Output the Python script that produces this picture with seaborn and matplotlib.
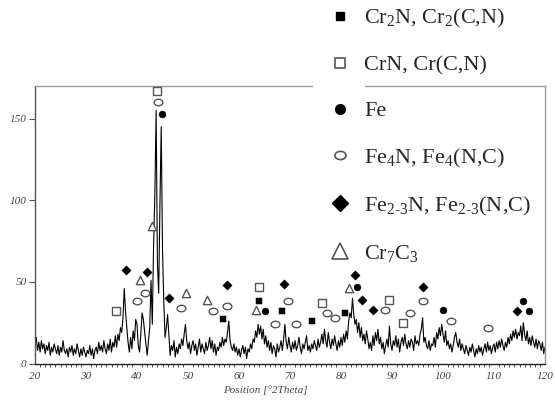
import numpy as np
import pandas as pd
import matplotlib
matplotlib.use("Agg")
import matplotlib.pyplot as plt
import seaborn as sns
from matplotlib.lines import Line2D
from matplotlib.path import Path
from matplotlib.transforms import Affine2D
from matplotlib.patches import Rectangle
from matplotlib.ticker import MultipleLocator

# ---------------- data ----------------
theta_start = 20.0
theta_step = 0.25
intensity = [
    12, 16, 8, 13,   7, 14, 9, 12,   6, 11, 8, 13,   5, 10, 7, 12,    # 20-23
    9, 6, 11, 5,     10, 7, 14, 8,   6, 9, 4, 10,    7, 11, 5, 9,     # 24-27
    6, 12, 8, 4,     9, 5, 10, 7,    4, 8, 6, 11,    5, 9, 3, 8,      # 28-31
    10, 6, 13, 8,    11, 7, 14, 9,   6, 12, 8, 15,   7, 13, 10, 17,   # 32-35
    10, 18, 14, 22,  19, 28, 46, 32, 22, 13, 7, 16,  9, 20, 14, 27,   # 36-39
    24, 11, 7, 18,   31, 27, 19, 12, 5, 14, 22, 51,  24, 72, 103, 155,# 40-43
    62, 43, 98, 145, 70, 38, 16, 22, 30, 18, 5, 11,  8, 14, 4, 10,    # 44-47
    6, 12, 9, 15,    11, 18, 24, 14, 9, 13, 6, 11,   14, 8, 12, 5,    # 48-51
    10, 15, 7, 12,   9, 6, 13, 8,    11, 16, 9, 14,  7, 12, 5, 10,    # 52-55
    8, 13, 10, 16,   11, 15, 13, 19, 26, 14, 10, 8,  12, 7, 10, 5,    # 56-59
    9, 4, 8, 11,     6, 10, 3, 9,    7, 12, 9, 15,   13, 20, 16, 24,  # 60-63
    18, 23, 15, 21,  12, 17, 10, 14, 8, 13, 6, 11,   9, 4, 12, 7,     # 64-67
    10, 14, 8, 15,   24, 13, 9, 16,  11, 7, 13, 9,   14, 8, 11, 16,   # 68-71
    10, 6, 12, 9,    13, 17, 8, 11,  7, 12, 9, 14,   11, 8, 15, 10,   # 72-75
    13, 18, 12, 21,  14, 10, 19, 13, 9, 15, 11, 17,  12, 8, 14, 10,   # 76-79
    16, 11, 18, 13,  20, 15, 26, 31, 28, 40, 30, 24, 27, 19, 25, 16,  # 80-83
    22, 14, 18, 12,  20, 15, 9, 13,  8, 17, 11, 19,  14, 21, 12, 16,  # 84-87
    9, 13, 6, 11,    15, 10, 23, 12, 8, 14, 11, 17,  10, 15, 7, 13,   # 88-91
    16, 11, 18, 12,  9, 14, 10, 15,  13, 8, 17, 12,  14, 11, 18, 21,  # 92-95
    28, 13, 16, 11,  9, 14, 8, 12,   11, 16, 10, 19, 15, 22, 17, 24,  # 96-99
    18, 13, 20, 11,  14, 9, 12, 7,   11, 16, 19, 13, 10, 15, 8, 12,   # 100-103
    9, 6, 11, 8,     5, 10, 7, 12,   8, 4, 9, 6,     11, 7, 10, 5,    # 104-107
    9, 12, 7, 13,    8, 11, 6, 10,   12, 7, 13, 9,   14, 10, 15, 11,  # 108-111
    8, 13, 10, 16,   12, 18, 14, 20, 16, 21, 15, 19, 17, 23, 14, 25,  # 112-115
    18, 14, 20, 12,  16, 11, 17, 13, 10, 15, 9, 14,  12, 8, 13, 6,    # 116-119
    10,                                                               # 120
]

phase_labels = [
    "Cr$_2$N, Cr$_2$(C,N)",
    "CrN, Cr(C,N)",
    "Fe",
    "Fe$_4$N, Fe$_4$(N,C)",
    "Fe$_{2\\text{-}3}$N, Fe$_{2\\text{-}3}$(N,C)",
    "Cr$_7$C$_3$",
]

cr2n_x = [56.9, 63.9, 68.4, 74.4, 80.8]
cr2n_y = [27, 38, 32, 26, 31]
crn_x = [35.9, 43.9, 63.9, 76.3, 89.5, 92.1]
crn_y = [32, 167, 47, 37, 39, 25]
fe_x = [44.9, 65.1, 83.1, 100.0, 115.7, 116.9]
fe_y = [152.6, 32, 47, 33, 38, 32]
fe4n_x = [40.0, 41.6, 44.1, 48.6, 54.9, 57.6, 67.1, 69.6, 71.2, 77.3, 78.9,
          88.6, 93.5, 96.1, 101.6, 108.8]
fe4n_y = [38, 43, 160, 34, 32, 35, 24, 38, 24, 31, 28, 33, 31, 38, 26, 22]
fe23n_x = [37.8, 42.0, 46.3, 57.6, 68.8, 82.7, 84.2, 86.2, 96.1, 114.5]
fe23n_y = [57, 56, 40, 48, 49, 54, 39, 33, 47, 32]
cr7c3_x = [40.6, 42.9, 49.6, 53.7, 63.3, 81.5]
cr7c3_y = [51, 84, 43, 39, 33, 46]

x_ticks = [20, 30, 40, 50, 60, 70, 80, 90, 100, 110, 120]
y_ticks = [0, 50, 100, 150]

# ---------------- style ----------------
sns.set_style("white")
plt.rcParams["font.family"] = ["Liberation Serif", "DejaVu Serif"]
plt.rcParams["mathtext.fontset"] = "custom"
plt.rcParams["mathtext.rm"] = "Liberation Serif"
plt.rcParams["mathtext.it"] = "Liberation Serif:italic"

W, H = 555, 400
fig = plt.figure(figsize=(W / 100, H / 100), dpi=100)
ax = fig.add_axes([35 / W, 1 - 363.5 / H, 510 / W, (363.5 - 86) / H])

theta = theta_start + theta_step * np.arange(len(intensity))
df = pd.DataFrame({"theta": theta, "I": intensity})
sns.lineplot(data=df, x="theta", y="I", ax=ax, color="black", lw=0.8)

ellipse = Path.unit_circle().transformed(Affine2D().scale(1.35, 1.0))

gray = "#555555"
styles = [
    (cr2n_x, cr2n_y, dict(marker="s", s=20, color="black", edgecolor="black")),
    (crn_x, crn_y, dict(marker="s", s=26, color="white", edgecolor=gray, linewidth=1.0)),
    (fe_x, fe_y, dict(marker="o", s=24, color="black", edgecolor="black")),
    (fe4n_x, fe4n_y, dict(marker=ellipse, s=40, color="white", edgecolor=gray, linewidth=1.0)),
    (fe23n_x, fe23n_y, dict(marker="D", s=22, color="black", edgecolor="black")),
    (cr7c3_x, cr7c3_y, dict(marker="^", s=36, color="white", edgecolor=gray, linewidth=1.0)),
]
for xs, ys, kw in styles:
    sns.scatterplot(x=xs, y=ys, ax=ax, legend=False, clip_on=False, zorder=4, **kw)

ax.set_xlim(20, 120)
ax.set_ylim(0, 170)
ax.set_xticks(x_ticks)
ax.set_yticks(y_ticks)
ax.xaxis.set_minor_locator(MultipleLocator(1))
ax.tick_params(axis="x", which="major", direction="out", length=4, width=0.8,
               color="#333333", labelsize=8, labelcolor="#444444", pad=2)
ax.tick_params(axis="x", which="minor", direction="out", length=2.5, width=0.6,
               color="#333333", bottom=True)
ax.tick_params(axis="y", which="major", direction="out", length=4, width=0.8,
               color="#555555", labelsize=8, labelcolor="#444444", pad=2, left=True)
for lab in ax.get_xticklabels() + ax.get_yticklabels():
    lab.set_fontstyle("italic")

ax.set_xlabel("Position [°2Theta]", fontsize=8, style="italic", color="#444444")
ax.xaxis.set_label_coords((265 - 35) / 510, -0.078)
ax.set_ylabel("")

ax.spines["left"].set_color("#555555")
ax.spines["bottom"].set_color("#222222")
ax.spines["top"].set_color("#999999")
ax.spines["right"].set_color("#999999")
for sp in ax.spines.values():
    sp.set_linewidth(1.0)
    sp.set_visible(True)

# gap in the top border where the legend markers sit
fig.add_artist(Rectangle((313 / W, 1 - 89 / H), 52 / W, 6 / H,
                         transform=fig.transFigure, facecolor="white",
                         edgecolor="none", zorder=5))

handles = [
    Line2D([], [], ls="none", marker="s", markersize=6, mfc="black", mec="black"),
    Line2D([], [], ls="none", marker="s", markersize=7, mfc="white", mec=gray, mew=1.2),
    Line2D([], [], ls="none", marker="o", markersize=7, mfc="black", mec="black"),
    Line2D([], [], ls="none", marker=ellipse, markersize=8, mfc="white", mec=gray, mew=1.2),
    Line2D([], [], ls="none", marker="D", markersize=8, mfc="black", mec="black"),
    Line2D([], [], ls="none", marker="^", markersize=12, mfc="white", mec=gray, mew=1.2),
]
ax.legend(handles, phase_labels, loc="upper left",
          bbox_to_anchor=(331 / W, 1 - 7 / H), bbox_transform=fig.transFigure,
          frameon=False, fontsize=16, handlelength=0.8, handletextpad=0.68,
          labelspacing=1.13, borderpad=0, borderaxespad=0)

fig.savefig("out.png", dpi=100)
